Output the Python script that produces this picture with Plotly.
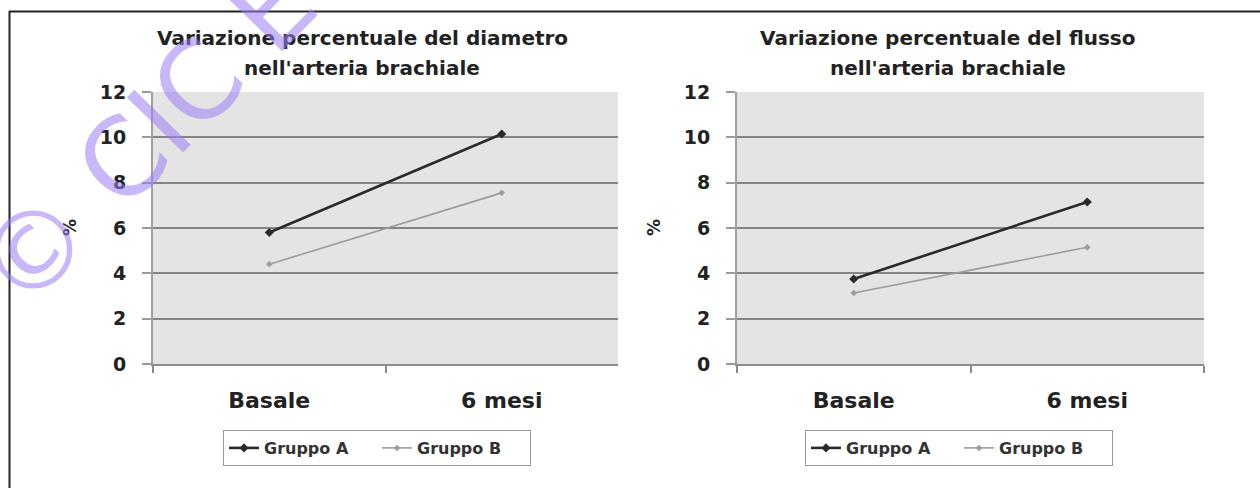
import plotly.graph_objects as go

W, H = 1260, 488

# Data
categories = ["Basale", "6 mesi"]
diametro_a = [5.8, 10.15]
diametro_b = [4.4, 7.55]
flusso_a = [3.75, 7.15]
flusso_b = [3.13, 5.15]
y_ticks = [0, 2, 4, 6, 8, 10, 12]
series_names = ["Gruppo A", "Gruppo B"]

FONT = "DejaVu Sans, Verdana, sans-serif"
col_a = "#2a2a2a"
col_b = "#9c9c9c"


def px_x(v):
    return v / W


def px_y(v):
    return 1 - v / H


fig = go.Figure()

panels = [
    ("x", "y", "legend", diametro_a, diametro_b),
    ("x2", "y2", "legend2", flusso_a, flusso_b),
]
for xa, ya, lg, a_vals, b_vals in panels:
    fig.add_trace(go.Scatter(
        x=categories, y=a_vals, name=series_names[0], mode="lines+markers",
        line=dict(color=col_a, width=2.6),
        marker=dict(symbol="diamond", size=7, color=col_a),
        xaxis=xa, yaxis=ya, legend=lg,
    ))
    fig.add_trace(go.Scatter(
        x=categories, y=b_vals, name=series_names[1], mode="lines+markers",
        line=dict(color=col_b, width=1.6),
        marker=dict(symbol="diamond", size=5, color=col_b),
        xaxis=xa, yaxis=ya, legend=lg,
    ))

x_axis_common = dict(
    type="category", range=[-0.5, 1.5], tickson="boundaries",
    ticks="outside", ticklen=7, tickwidth=1.5, tickcolor="#8a8a8a",
    showline=True, linecolor="#8e8e8e", linewidth=2,
    showgrid=False, zeroline=False, automargin=False,
    tickfont=dict(family=FONT, size=22, color="#222", weight="bold"),
    ticklabelstandoff=16, fixedrange=True,
)
y_axis_common = dict(
    range=[0, 12], tickvals=y_ticks, ticktext=[str(t) for t in y_ticks],
    showgrid=True, gridcolor="#858585", gridwidth=2,
    showline=True, linecolor="#a0a0a0", linewidth=2,
    ticks="outside", ticklen=9, tickwidth=1.5, tickcolor="#9a9a9a",
    zeroline=False, automargin=False,
    tickfont=dict(family=FONT, size=19, color="#222", weight="bold"),
    ticklabelstandoff=12, fixedrange=True,
)

left_dom = [px_x(153), px_x(618)]
right_dom = [px_x(737), px_x(1204)]
y_dom = [px_y(364), px_y(92)]

fig.update_layout(
    width=W, height=H, autosize=False,
    margin=dict(l=0, r=0, t=0, b=0, autoexpand=False),
    paper_bgcolor="white",
    plot_bgcolor="#e4e4e4",
    xaxis=dict(domain=left_dom, anchor="y", **x_axis_common),
    yaxis=dict(domain=y_dom, anchor="x", **y_axis_common),
    xaxis2=dict(domain=right_dom, anchor="y2", **x_axis_common),
    yaxis2=dict(domain=y_dom, anchor="x2", **y_axis_common),
    showlegend=True,
)

legend_common = dict(
    orientation="h", xanchor="center", yanchor="middle", y=px_y(448),
    bgcolor="white", bordercolor="#9a9a9a", borderwidth=1,
    font=dict(family=FONT, size=16, color="#333", weight="bold"),
    entrywidth=108, entrywidthmode="pixels", tracegroupgap=0,
)
fig.update_layout(
    legend=dict(x=px_x(377), **legend_common),
    legend2=dict(x=px_x(959), **legend_common),
)

# Chart titles
titles = [
    (362, ["Variazione percentuale del diametro", "nell'arteria brachiale"]),
    (948, ["Variazione percentuale del flusso", "nell'arteria brachiale"]),
]
for cx, lines in titles:
    for i, txt in enumerate(lines):
        fig.add_annotation(
            x=px_x(cx), y=px_y(38 + 30 * i), xref="paper", yref="paper",
            text=txt, showarrow=False, xanchor="center", yanchor="middle",
            font=dict(family=FONT, size=20, color="#222", weight="bold"),
        )

# Y-axis titles
for cx in (70, 654):
    fig.add_annotation(
        x=px_x(cx), y=px_y(228), xref="paper", yref="paper",
        text="%", showarrow=False, textangle=-90,
        xanchor="center", yanchor="middle",
        font=dict(family=FONT, size=17, color="#222", weight="bold"),
    )

# Outer frame (top and left edges)
fig.add_shape(type="line", xref="paper", yref="paper",
              x0=px_x(9), x1=1, y0=px_y(11.5), y1=px_y(11.5),
              line=dict(color="#222", width=2))
fig.add_shape(type="line", xref="paper", yref="paper",
              x0=px_x(9.5), x1=px_x(9.5), y0=px_y(11), y1=0,
              line=dict(color="#222", width=2))

# Publisher watermark
fig.add_annotation(
    x=px_x(146), y=px_y(136), xref="paper", yref="paper",
    text="© CIC E", showarrow=False, textangle=-45.6,
    xanchor="center", yanchor="middle",
    font=dict(family=FONT, size=108, color="rgba(155,125,245,0.55)"),
)

fig.write_html("out.html")
